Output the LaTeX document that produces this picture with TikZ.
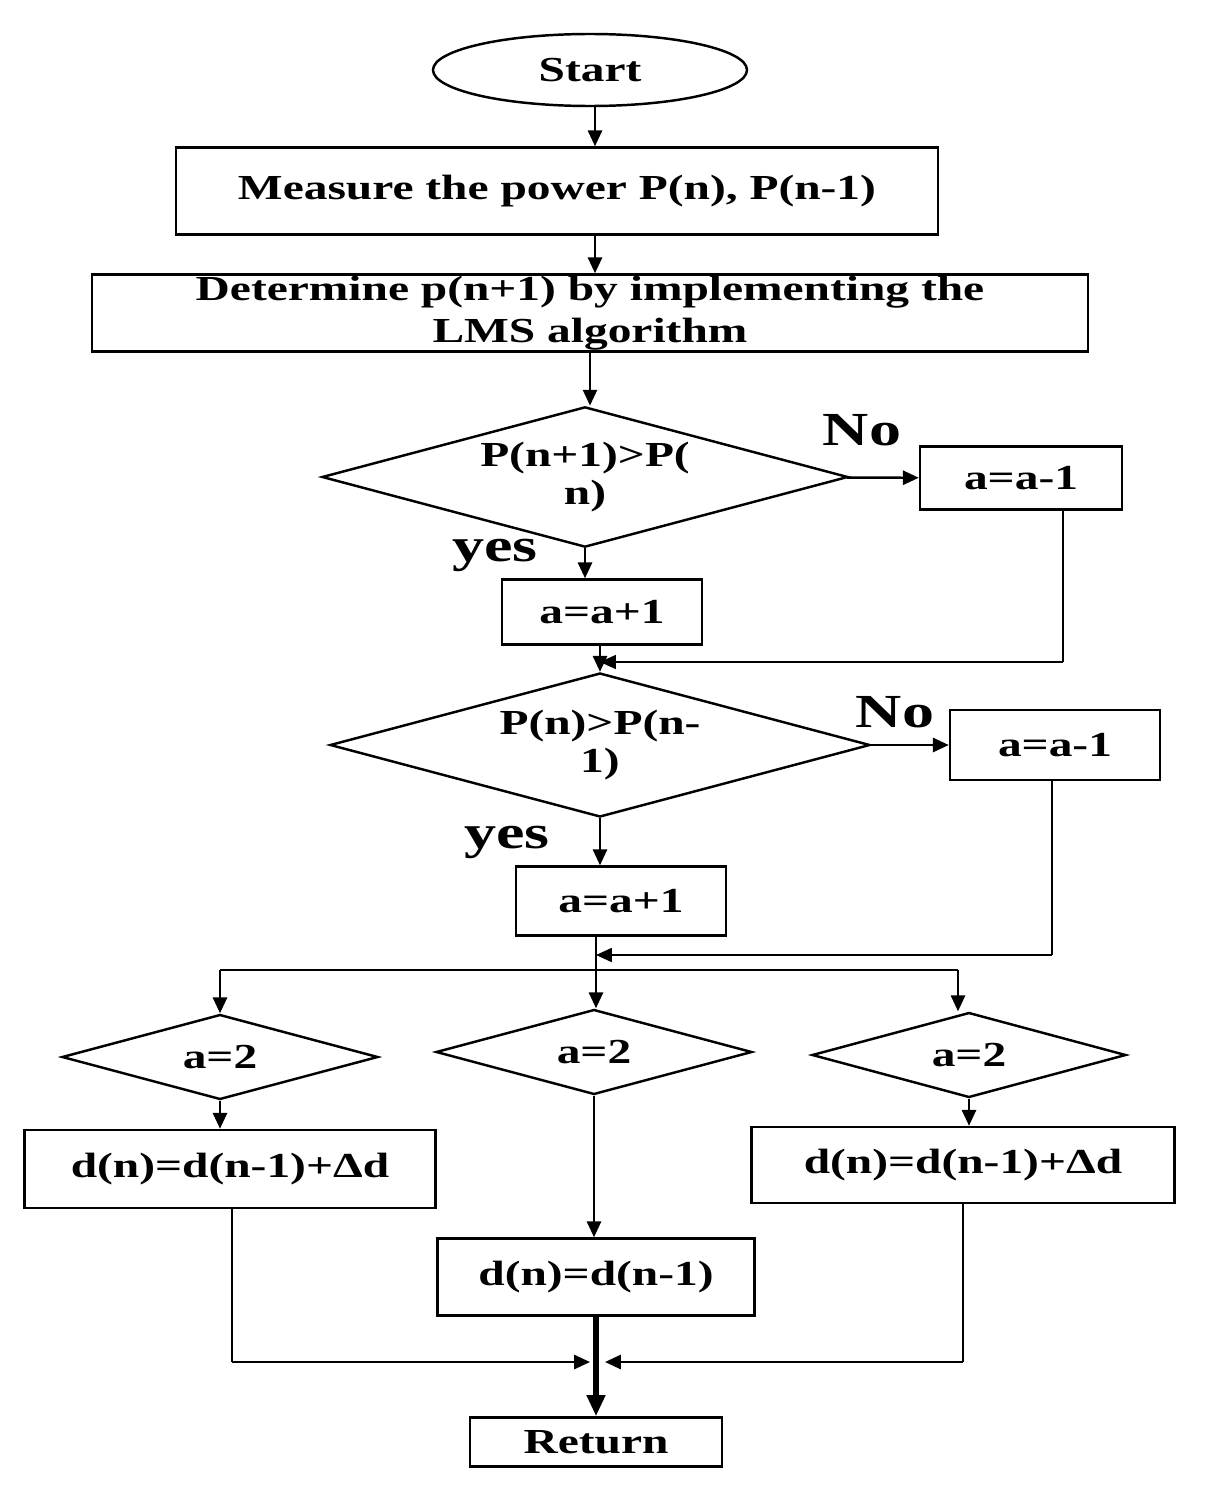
\documentclass[tikz,border=0pt]{standalone}
\usepackage{fontspec}
\setmainfont{Liberation Serif}[FakeStretch=1.35]
\usetikzlibrary{shapes.geometric,arrows.meta}
\begin{document}
\begin{tikzpicture}[x=0.02cm,y=-0.02cm,
  every node/.style={font=\bfseries\fontsize{20}{22}\selectfont, align=center, draw, line width=1.4pt, inner sep=0pt},
  box/.style={rectangle},
  dia/.style={diamond, aspect=3},
  lab/.style={draw=none, font=\bfseries\fontsize{27}{29}\selectfont},
  ar/.style={-{Triangle[length=9pt,width=8pt]}, line width=1.4pt},
  ln/.style={line width=1.4pt}]
\useasboundingbox (0,0) rectangle (1211,1497);
\node[ellipse, minimum width=314*0.02cm, minimum height=72*0.02cm] (start) at (590,70) {Start};
\node[box, minimum width=762*0.02cm, minimum height=87*0.02cm] (meas) at (557,191) {Measure the power P(n), P(n-1)};
\node[box, minimum width=996*0.02cm, minimum height=77*0.02cm] (det) at (590,313) {Determine p(n+1) by implementing the\\[2pt]LMS algorithm};
\node[dia, minimum width=526*0.02cm, minimum height=127*0.02cm] (d1) at (585,477) {P(n+1)>P(\\n)};
\node[box, minimum width=202*0.02cm, minimum height=63*0.02cm] (m1) at (1021,478) {a=a-1};
\node[box, minimum width=200*0.02cm, minimum height=65*0.02cm] (p1) at (602,612) {a=a+1};
\node[dia, minimum width=540*0.02cm, minimum height=144*0.02cm] (d2) at (600,745) {P(n)>P(n-\\1)};
\node[box, minimum width=210*0.02cm, minimum height=70*0.02cm] (m2) at (1055,745) {a=a-1};
\node[box, minimum width=210*0.02cm, minimum height=69*0.02cm] (p2) at (621,901) {a=a+1};
\node[dia, minimum width=316*0.02cm, minimum height=85*0.02cm] (dl) at (220,1057) {a=2};
\node[dia, minimum width=316*0.02cm, minimum height=85*0.02cm] (dm) at (594,1052) {a=2};
\node[dia, minimum width=314*0.02cm, minimum height=85*0.02cm] (dr) at (969,1055) {a=2};
\node[box, minimum width=411*0.02cm, minimum height=78*0.02cm] (bl) at (230,1169) {d(n)=d(n-1)+Δd};
\node[box, minimum width=423*0.02cm, minimum height=76*0.02cm] (br) at (963,1165) {d(n)=d(n-1)+Δd};
\node[box, minimum width=317*0.02cm, minimum height=77*0.02cm] (bm) at (596,1277) {d(n)=d(n-1)};
\node[box, minimum width=252*0.02cm, minimum height=49*0.02cm] (ret) at (596,1442) {Return};
\node[lab] (no1) at (862,430) {No};
\node[lab] (yes1) at (495,555) {yes};
\node[lab] (no2) at (895,712) {No};
\node[lab] (yes2) at (507,842) {yes};
\coordinate (j1) at (600,662);
\coordinate (j2) at (596,955);
\coordinate (j3) at (596,970);
\coordinate (jl) at (220,970);
\coordinate (jr) at (958,970);
\coordinate (ml) at (590,1362);
\coordinate (mr) at (605,1362);
\draw[ar] (start.south -| 595,0) -- (meas.north -| 595,0);
\draw[ar] (meas.south -| 595,0) -- (det.north -| 595,0);
\draw[ar] (det.south -| 590,0) -- (d1.north -| 590,0);
\draw[ar] (d1) -- (m1);
\draw[ar] (d1.south) -- (p1.north -| d1.south);
\draw[line width=0.6pt] (m1.south -| 1063,0) -- (1063,662);
\draw[-{Triangle[length=9pt,width=8pt]}, line width=0.6pt] (1063,662) -- (j1);
\draw[ar] (p1.south -| j1) -- (d2.north);
\draw[ar] (d2) -- (m2);
\draw[ar] (d2.south) -- (p2.north -| d2.south);
\draw[line width=0.8pt] (m2.south -| 1052,0) -- (1052,955);
\draw[-{Triangle[length=9pt,width=8pt]}, line width=0.8pt] (1052,955) -- (j2);
\draw[ln] (p2.south -| j3) -- (j3);
\draw[ln] (jl) -- (jr);
\draw[ar] (jl) -- (dl);
\draw[ar] (j3) -- (dm.north -| j3);
\draw[ar] (jr) -- (dr.north -| jr);
\draw[ar] (dl) -- (bl.north -| dl);
\draw[ar] (dr) -- (br.north -| dr);
\draw[ar] (dm) -- (bm.north -| dm);
\draw[ln] (bl.south -| 232,0) -- (232,1362);
\draw[ar] (232,1362) -- (ml);
\draw[ln] (br.south) -- (963,1362);
\draw[ar] (963,1362) -- (mr);
\draw[-{Triangle[length=12pt,width=10pt]}, line width=3pt] (bm) -- (ret);
\end{tikzpicture}
\end{document}
